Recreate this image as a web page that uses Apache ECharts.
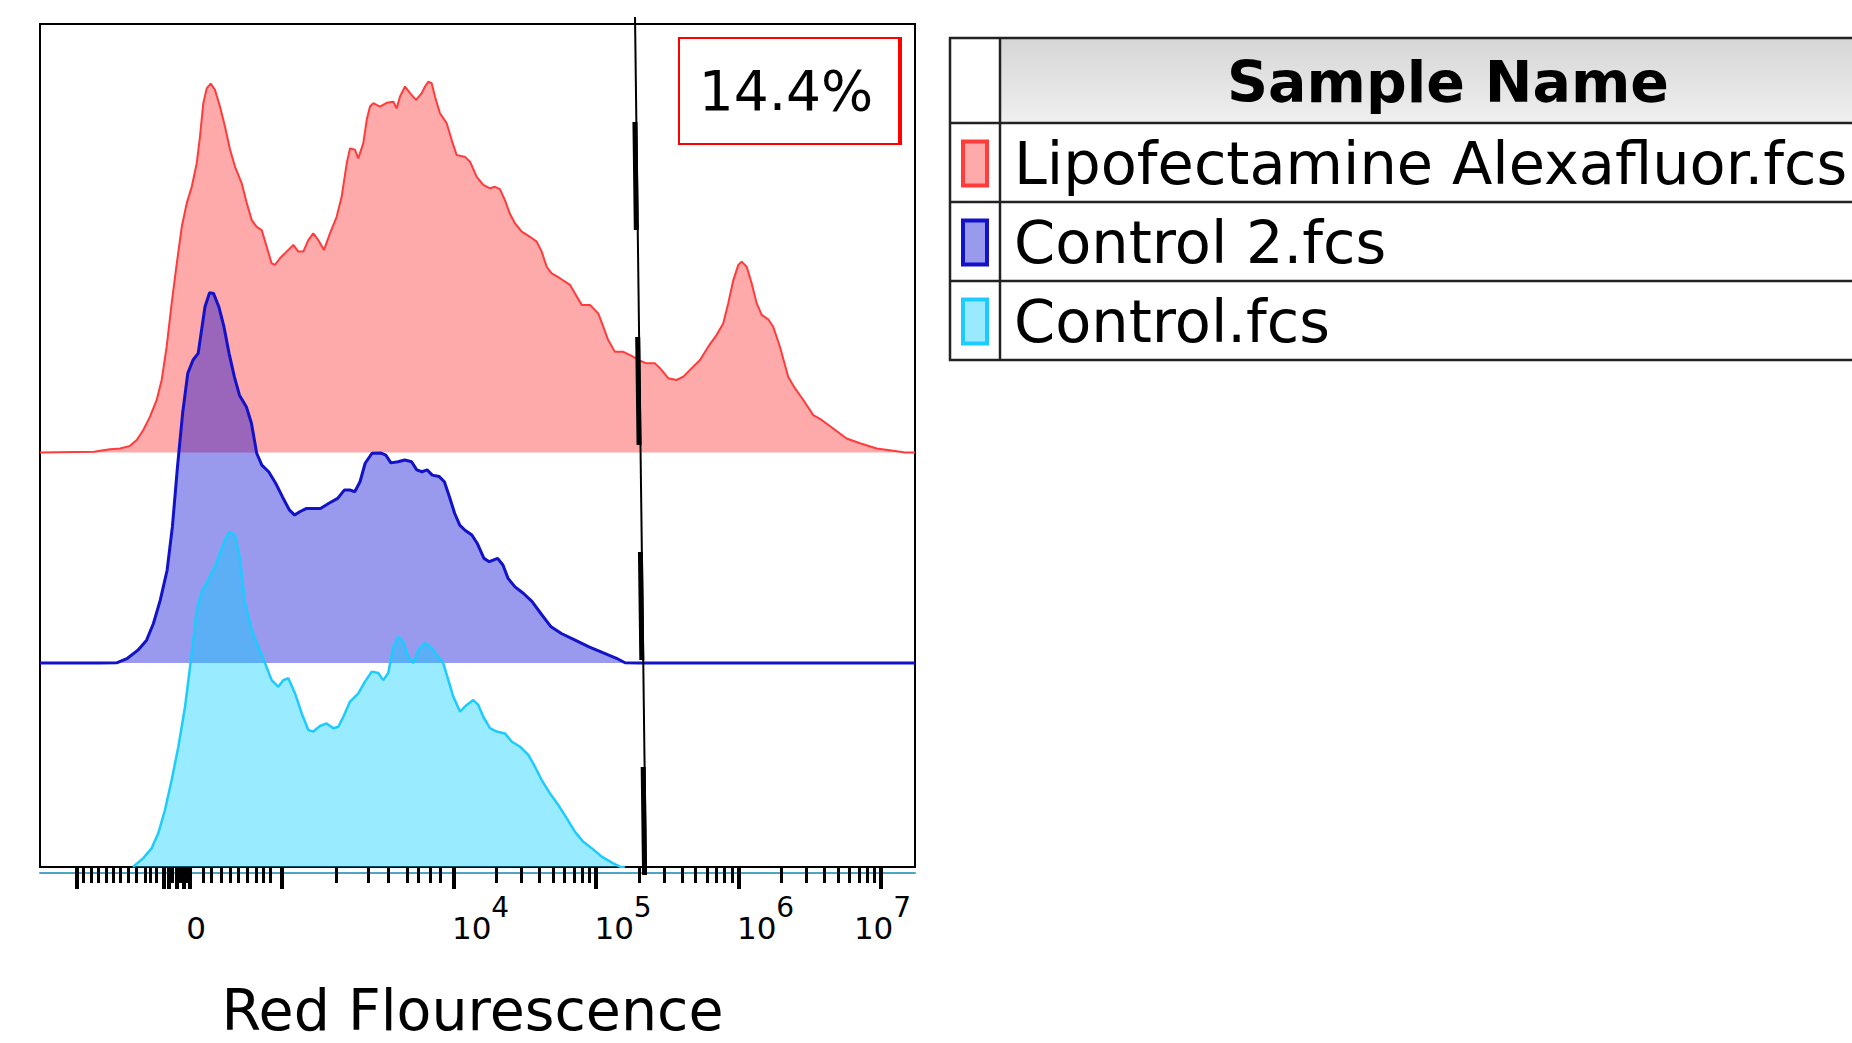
<!DOCTYPE html>
<html>
<head>
<meta charset="utf-8">
<script src="https://cdn.jsdelivr.net/npm/echarts@6/dist/echarts.min.js"></script>
<style>
html,body{margin:0;padding:0;background:#ffffff;}
#chart{width:1852px;height:1043px;}
</style>
</head>
<body>
<div id="chart"></div>
<script>
// ---------- DATA (x = display position in decade units of the biexponential axis, y = % of mode) ----------
const sampleNames = ['Lipofectamine Alexafluor.fcs', 'Control 2.fcs', 'Control.fcs'];

const lipofectamine = [[1.098,0],[1.480,0.2],[1.519,0.5],[1.589,0.9],[1.660,1.1],[1.730,1.8],[1.777,3.4],[1.823,6.1],[1.870,9.7],[1.917,14.2],[1.952,19.6],[1.987,28.6],[2.022,40.3],[2.058,51.1],[2.093,61.0],[2.128,67.4],[2.163,71.8],[2.198,78.2],[2.221,85.4],[2.244,94.4],[2.268,98.4],[2.296,99.7],[2.326,98.0],[2.361,93.5],[2.396,88.1],[2.432,81.8],[2.467,77.2],[2.514,72.7],[2.549,67.4],[2.584,62.8],[2.619,61.0],[2.654,60.1],[2.689,55.6],[2.724,51.1],[2.747,50.7],[2.782,52.5],[2.829,54.3],[2.876,56.1],[2.911,54.3],[2.946,54.3],[2.981,57.4],[3.016,59.2],[3.051,57.4],[3.091,54.7],[3.133,59.2],[3.180,63.7],[3.215,69.1],[3.251,78.2],[3.274,82.2],[3.309,81.8],[3.332,79.5],[3.367,83.6],[3.391,89.9],[3.414,93.5],[3.437,94.4],[3.484,93.5],[3.531,94.5],[3.578,94.8],[3.601,93.0],[3.625,96.2],[3.660,98.9],[3.695,97.1],[3.737,95.3],[3.777,97.1],[3.800,98.9],[3.823,100.2],[3.847,99.8],[3.870,96.2],[3.905,91.7],[3.952,89.0],[3.987,84.5],[4.022,80.4],[4.081,79.9],[4.116,78.6],[4.163,74.5],[4.209,72.3],[4.256,71.4],[4.291,71.8],[4.326,71.2],[4.361,68.2],[4.396,64.5],[4.432,61.9],[4.479,59.7],[4.537,58.3],[4.584,57.0],[4.619,54.3],[4.654,50.2],[4.689,48.4],[4.747,47.1],[4.818,45.3],[4.853,43.0],[4.900,39.9],[4.958,39.9],[5.016,37.6],[5.051,34.0],[5.086,30.4],[5.133,27.2],[5.192,27.2],[5.251,26.1],[5.309,24.8],[5.356,24.1],[5.414,24.1],[5.449,22.8],[5.507,20.1],[5.566,19.6],[5.613,20.5],[5.672,22.8],[5.730,25.0],[5.788,28.6],[5.847,31.8],[5.893,34.9],[5.928,40.3],[5.964,46.6],[5.999,50.7],[6.022,51.6],[6.058,50.2],[6.093,45.7],[6.128,40.3],[6.163,37.2],[6.209,36.0],[6.244,34.0],[6.291,28.6],[6.349,20.5],[6.396,17.4],[6.455,14.2],[6.525,10.1],[6.584,8.8],[6.665,6.5],[6.759,3.8],[6.853,2.5],[6.970,1.1],[7.086,0.5],[7.168,0],[7.239,0]];

const control2 = [[1.098,0],[1.519,0],[1.640,0.1],[1.712,1.3],[1.785,3.5],[1.846,6.2],[1.894,10.7],[1.942,17.0],[1.990,25.1],[2.027,36.8],[2.063,53.1],[2.099,67.5],[2.135,78.3],[2.172,81.9],[2.208,83.7],[2.232,90.0],[2.256,96.3],[2.288,100.1],[2.316,99.9],[2.353,96.3],[2.389,90.9],[2.425,83.7],[2.462,77.4],[2.498,72.4],[2.546,69.3],[2.582,64.8],[2.619,56.7],[2.655,53.5],[2.703,51.7],[2.752,48.6],[2.800,44.9],[2.848,41.4],[2.885,40.0],[2.921,40.9],[2.969,41.8],[3.066,41.8],[3.126,43.2],[3.187,44.5],[3.235,46.8],[3.272,46.8],[3.307,46.3],[3.344,49.0],[3.380,54.0],[3.428,56.7],[3.488,56.8],[3.525,56.2],[3.561,54.1],[3.610,54.4],[3.658,54.9],[3.706,54.4],[3.742,52.2],[3.779,51.7],[3.815,52.2],[3.851,50.8],[3.900,50.4],[3.936,49.0],[3.972,44.9],[4.008,40.5],[4.044,37.3],[4.081,35.9],[4.129,34.6],[4.166,32.4],[4.214,28.3],[4.251,27.4],[4.310,28.3],[4.347,26.5],[4.383,22.9],[4.432,20.6],[4.492,18.8],[4.552,16.6],[4.613,13.4],[4.685,9.8],[4.757,8.0],[4.854,6.2],[4.951,4.4],[5.048,2.8],[5.144,1.3],[5.204,0.1],[5.301,0],[7.239,0]];

const control = [[1.751,0],[1.765,0.5],[1.823,2.4],[1.882,5.1],[1.928,9.1],[1.975,15.4],[2.022,23.5],[2.069,32.5],[2.116,43.3],[2.151,54.1],[2.174,61.4],[2.198,69.5],[2.233,74.4],[2.279,77.6],[2.326,81.2],[2.361,84.8],[2.396,88.4],[2.427,90.6],[2.467,89.7],[2.502,83.0],[2.537,71.3],[2.584,64.1],[2.630,59.5],[2.677,55.1],[2.724,50.5],[2.771,48.7],[2.806,50.5],[2.841,51.0],[2.888,46.9],[2.935,41.5],[2.981,37.0],[3.016,36.6],[3.063,38.1],[3.110,38.8],[3.156,37.5],[3.192,37.9],[3.227,40.6],[3.274,44.7],[3.332,46.9],[3.379,50.1],[3.426,52.8],[3.472,52.4],[3.507,50.5],[3.542,52.4],[3.578,59.5],[3.613,62.2],[3.648,60.9],[3.683,56.8],[3.718,55.1],[3.753,58.6],[3.800,60.5],[3.847,59.1],[3.893,56.8],[3.928,55.1],[3.964,50.5],[3.999,46.0],[4.046,42.0],[4.093,43.8],[4.139,45.1],[4.174,43.8],[4.209,40.6],[4.256,37.5],[4.303,36.6],[4.361,36.1],[4.408,33.9],[4.467,32.5],[4.525,30.3],[4.572,27.1],[4.619,23.5],[4.677,19.9],[4.735,16.8],[4.794,13.2],[4.853,9.5],[4.911,6.8],[4.970,5.1],[5.040,2.8],[5.121,1.0],[5.168,0.1],[5.203,0]];

// gate (vertical marker) and its statistic
const gateX = [5.274, 5.351];          // x at top, x at bottom
const gatePercent = 14.4;

// axis range and ticks
const axisMin = 1.098, axisMax = 7.239;
const majorTicks = [1.353, 1.965, 2.005, 2.055, 2.105, 2.150, 2.794, 4, 5, 6, 7];
const linearMinorTicks = [1.402,1.461,1.507,1.561,1.613,1.664,1.718,1.772,1.835,1.870,1.912,2.025,2.081,2.128,2.244,2.303,2.373,2.431,2.490,2.553,2.619,2.665,2.712,3.180,3.402,3.542,3.672,3.753,3.835,3.910];
const logDecades = [4, 5, 6];
const tickLabelValues = [2.003, 4, 5, 6, 7];
const tickLabelTexts = ['{b|0}', '{b|10}{s|4}', '{b|10}{s|5}', '{b|10}{s|6}', '{b|10}{s|7}'];
const axisTitle = 'Red Flourescence';
const tableHeader = 'Sample Name';

// ---------- build ----------
const FONT = 'DejaVu Sans';
const minorTicks = linearMinorTicks.slice();
logDecades.forEach(d => { for (let k = 2; k <= 9; k++) minorTicks.push(d + Math.log10(k)); });
const labelShift = 0.19;
const labelPositions = tickLabelValues.map(t => Math.min(t + labelShift, axisMax - 0.228));

const styles = [
  {line: '#ff3b3b', fill: 'rgba(255,0,0,0.333)', legend: '#ffaaaa', width: 2},
  {line: '#1212c8', fill: 'rgba(0,0,212,0.4)',   legend: '#9999ee', width: 3},
  {line: '#1ecbff', fill: 'rgba(0,204,255,0.4)', legend: '#99eaff', width: 2.5}
];
const seriesData = [lipofectamine, control2, control];
const stackOffsets = [112.0, 55.1, 0];   // ridge baselines, in y units above the frame bottom
const yRange = 227.8;

const yAxes = stackOffsets.map(o => ({type: 'value', min: -o, max: yRange - o, show: false}));
yAxes.push({type: 'value', min: 0, max: 1, show: false});

const series = seriesData.map((d, i) => ({
  type: 'line', name: sampleNames[i], data: d, xAxisIndex: 0, yAxisIndex: i,
  symbol: 'none', showSymbol: false, smooth: false, silent: true, z: 2 + i,
  lineStyle: {color: styles[i].line, width: styles[i].width},
  itemStyle: {color: styles[i].legend},
  areaStyle: {color: styles[i].fill, opacity: 1}
}));
const gateTopY = 1.0083, gateBottomY = -0.0095;
series.push({
  type: 'line', name: 'gate', data: [[gateX[0], gateTopY], [gateX[1], gateBottomY]],
  xAxisIndex: 0, yAxisIndex: 3, symbol: 'none', silent: true, clip: false, z: 10,
  lineStyle: {color: '#000', width: 2}
});
series.push({
  type: 'line', name: 'gate2', data: [[gateX[1] - 0.01, gateBottomY], [gateX[0] - 0.01, gateTopY]],
  xAxisIndex: 0, yAxisIndex: 3, symbol: 'none', silent: true, clip: false, z: 10,
  lineStyle: {color: '#000', width: 5, type: [108, 107]}
});

const chart = echarts.init(document.getElementById('chart'), null, {renderer: 'svg'});
chart.setOption({
  animation: false,
  backgroundColor: '#ffffff',
  grid: {left: 40, top: 24, width: 875, height: 843, show: true, borderColor: '#000', borderWidth: 2, backgroundColor: 'transparent', containLabel: false, outerBoundsMode: 'none'},
  xAxis: [
    {type: 'value', min: axisMin, max: axisMax, position: 'bottom', z: 5,
     axisLine: {show: false, onZero: false}, splitLine: {show: false},
     axisTick: {show: true, customValues: majorTicks, length: 22, lineStyle: {color: '#000', width: 4}},
     axisLabel: {show: true, customValues: labelPositions, margin: 26, color: '#000',
       formatter: function (v) { const i = labelPositions.findIndex(p => Math.abs(p - v) < 1e-6); return i >= 0 ? tickLabelTexts[i] : ''; },
       rich: {b: {fontFamily: FONT, fontSize: 31, lineHeight: 50, verticalAlign: 'bottom', color: '#000'},
              s: {fontFamily: FONT, fontSize: 28, lineHeight: 28, verticalAlign: 'top', color: '#000'}}},
     name: axisTitle, nameLocation: 'middle', nameGap: 118,
     nameTextStyle: {fontFamily: FONT, fontSize: 57, lineHeight: 50, color: '#000', padding: [0, 10, 0, 0]}},
    {type: 'value', min: axisMin, max: axisMax, position: 'bottom', offset: 6, z: 1,
     axisLine: {show: true, onZero: false, lineStyle: {color: '#4ea6c6', width: 2}}, splitLine: {show: false},
     axisTick: {show: false}, axisLabel: {show: false}},
    {type: 'value', min: axisMin, max: axisMax, position: 'bottom', z: 4,
     axisLine: {show: false, onZero: false}, splitLine: {show: false},
     axisTick: {show: true, customValues: minorTicks, length: 16, lineStyle: {color: '#000', width: 3}},
     axisLabel: {show: false}}
  ],
  yAxis: yAxes,
  legend: {
    orient: 'vertical', left: 956, top: 129, itemWidth: 24, itemHeight: 44, itemGap: 20,
    icon: 'rect', selectedMode: false,
    textStyle: {fontFamily: FONT, fontSize: 59, color: '#000', padding: [0, 0, 0, 22]},
    data: sampleNames.map((n, i) => ({name: n, itemStyle: {color: styles[i].legend, borderColor: styles[i].line, borderWidth: 4}}))
  },
  series: series,
  graphic: [
    // table
    {type: 'rect', silent: true, z: 0, shape: {x: 1001, y: 39, width: 900, height: 83},
     style: {fill: new echarts.graphic.LinearGradient(0, 0, 0, 1, [{offset: 0, color: '#d6d6d6'}, {offset: 1, color: '#efefef'}])}},
    {type: 'rect', silent: true, z: 1, shape: {x: 950, y: 38, width: 1000, height: 322}, style: {fill: 'none', stroke: '#222', lineWidth: 2.5}},
    {type: 'line', silent: true, z: 1, shape: {x1: 1000, y1: 38, x2: 1000, y2: 360}, style: {stroke: '#222', lineWidth: 2.5}},
    {type: 'line', silent: true, z: 1, shape: {x1: 950, y1: 123, x2: 1852, y2: 123}, style: {stroke: '#222', lineWidth: 2.5}},
    {type: 'line', silent: true, z: 1, shape: {x1: 950, y1: 202, x2: 1852, y2: 202}, style: {stroke: '#222', lineWidth: 2.5}},
    {type: 'line', silent: true, z: 1, shape: {x1: 950, y1: 281, x2: 1852, y2: 281}, style: {stroke: '#222', lineWidth: 2.5}},
    {type: 'text', silent: true, z: 2, x: 1448, y: 82,
     style: {text: tableHeader, align: 'center', verticalAlign: 'middle', fontFamily: FONT, fontSize: 57, fontWeight: 'bold', fill: '#000'}},
    // gate statistic box
    {type: 'rect', silent: true, z: 20, shape: {x: 679, y: 38, width: 222, height: 106}, style: {fill: '#fff', stroke: '#ff0000', lineWidth: 2}},
    {type: 'line', silent: true, z: 21, shape: {x1: 900, y1: 38, x2: 900, y2: 144}, style: {stroke: '#ff0000', lineWidth: 4}},
    {type: 'text', silent: true, z: 22, x: 786, y: 91,
     style: {text: gatePercent.toFixed(1) + '%', align: 'center', verticalAlign: 'middle', fontFamily: FONT, fontSize: 55, fill: '#000'}}
  ]
});
</script>
</body>
</html>
